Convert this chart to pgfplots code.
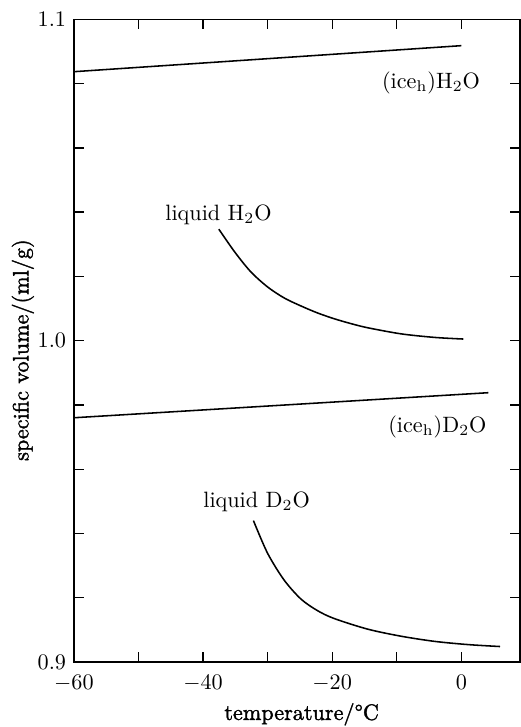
\documentclass[border=0pt]{standalone}
\usepackage{pgfplots}
\pgfplotsset{compat=1.18}
% slightly heavier roman for the axis titles
\font\titlefont="[lmroman10-regular]:embolden=1.6" at 10pt
\begin{document}
\begin{tikzpicture}
\begin{axis}[
  name=main,
  scale only axis,
  width=201pt, height=289.5pt,
  xmin=-60, xmax=9.1,
  ymin=0.9, ymax=1.1,
  xtick={-60,-40,-20,0},
  minor xtick={-50,-30,-10},
  xticklabel shift=2.5pt,
  ytick={0.9,1.0,1.1},
  yticklabels={0.9,1.0,1.1},
  minor ytick={0.92,0.94,0.96,0.98,1.02,1.04,1.06,1.08},
  tick align=inside,
  major tick length=4.5pt, minor tick length=4.5pt,
  tick style={black, line width=0.6pt},
  axis line style={line width=0.6pt},
]
% hexagonal ice, H2O
\addplot[black, line width=0.7pt, mark=none] coordinates {(-60,1.0837) (0,1.0918)};
% hexagonal ice, D2O
\addplot[black, line width=0.7pt, mark=none] coordinates {(-60,0.9760) (4.2,0.9838)};
% supercooled liquid H2O
\addplot[black, line width=0.7pt, mark=none, smooth] coordinates {
  (-37.56,1.0347) (-35.1,1.0276) (-32.6,1.0214) (-30.0,1.0167)
  (-27.45,1.0133) (-24.85,1.0108) (-22.25,1.0086) (-19.67,1.0068)
  (-17.1,1.0053) (-14.48,1.0040) (-9.3,1.0021) (-4.12,1.0010) (0.3,1.0005)};
% supercooled liquid D2O
\addplot[black, line width=0.7pt, mark=none, smooth] coordinates {
  (-32.2,0.9440) (-30.0,0.9338) (-27.45,0.9255) (-24.85,0.9196)
  (-22.3,0.9160) (-19.67,0.9135) (-14.48,0.9102) (-9.3,0.9080)
  (-4.12,0.9064) (1.07,0.9054) (5.99,0.9048)};
\end{axis}
% curve labels, placed from the lower left corner of the axis box
\begin{scope}[every node/.style={inner sep=0pt, anchor=base west}]
\node at ([shift={(41.0pt,199.0pt)}]main.south west) {liquid H$_2$O};
\node at ([shift={(58.1pt,69.8pt)}]main.south west) {liquid D$_2$O};
\node at ([shift={(138.6pt,258.4pt)}]main.south west) {(ice$_{\mathrm{h}}$)H$_2$O};
\node at ([shift={(141.4pt,103.5pt)}]main.south west) {(ice$_{\mathrm{h}}$)D$_2$O};
\end{scope}
% axis titles
\node[anchor=base, inner sep=0pt] at ([shift={(102.6pt,-26.1pt)}]main.south west) {\titlefont temperature/°C};
\node[rotate=90, inner sep=0pt] at ([shift={(-23pt,140.5pt)}]main.south west) {\titlefont specific volume/(ml/g)};
\pgfresetboundingbox
\path ([shift={(-33.3pt,-29.3pt)}]main.south west) rectangle ([shift={(0.3pt,8.7pt)}]main.north east);
\end{tikzpicture}
\end{document}
